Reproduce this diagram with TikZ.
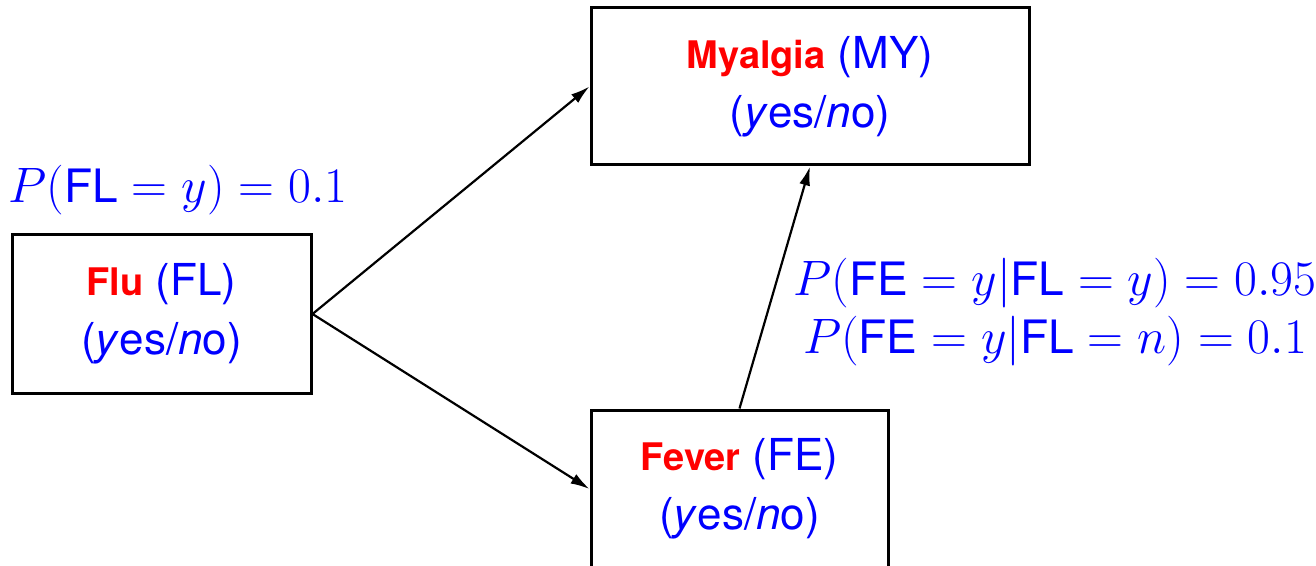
\documentclass[tikz,border=0pt]{standalone}
\usepackage{fontspec}
\setmainfont{TeX Gyre Heros}
\usetikzlibrary{arrows.meta}
\definecolor{tblue}{rgb}{0,0,1}
\definecolor{tred}{rgb}{1,0,0}
\newcommand{\yn}{(\textit{y}es/\textit{n}o)}
\newcommand{\nm}[1]{{\fontsize{19}{29.5}\selectfont\textcolor{tred}{\textbf{#1}}}}
\begin{document}
\begin{tikzpicture}[x=0.5pt,y=-0.5pt,
  var/.style={draw=black,line width=1.5pt,text=tblue,align=center,
    font=\fontsize{22}{29.5}\selectfont,inner sep=0pt},
  prob/.style={text=tblue,align=center,font=\fontsize{23}{29}\selectfont,inner sep=0pt},
  link/.style={line width=1.1pt,-{Latex[length=9.5pt,width=5.5pt]}}]
\useasboundingbox (0,0) rectangle (1316,566);
\node[var,minimum width=149.5pt,minimum height=79pt] (fl) at (161.5,314) {\nm{Flu} (FL)\\\yn};
\node[var,minimum width=219pt,minimum height=78.5pt] (my) at (810,86.5) {\nm{Myalgia} (MY)\\\yn};
\node[var,minimum width=148.5pt,minimum height=79pt] (fe) at (739.5,489) {\nm{Fever} (FE)\\\yn};
\node[prob] (p1) at (178,190) {$P(\mbox{FL}=y)=0.1$};
\node[prob] (p2) at (1055,312) {$P(\mbox{FE}=y|\mbox{FL}=y)=0.95$\\$P(\mbox{FE}=y|\mbox{FL}=n)=0.1$};
\draw[link] (fl.east) -- (my.west);
\draw[link] (fl.east) -- (fe.west);
\draw[link] (fe.north) -- (my.south);
\end{tikzpicture}
\end{document}
